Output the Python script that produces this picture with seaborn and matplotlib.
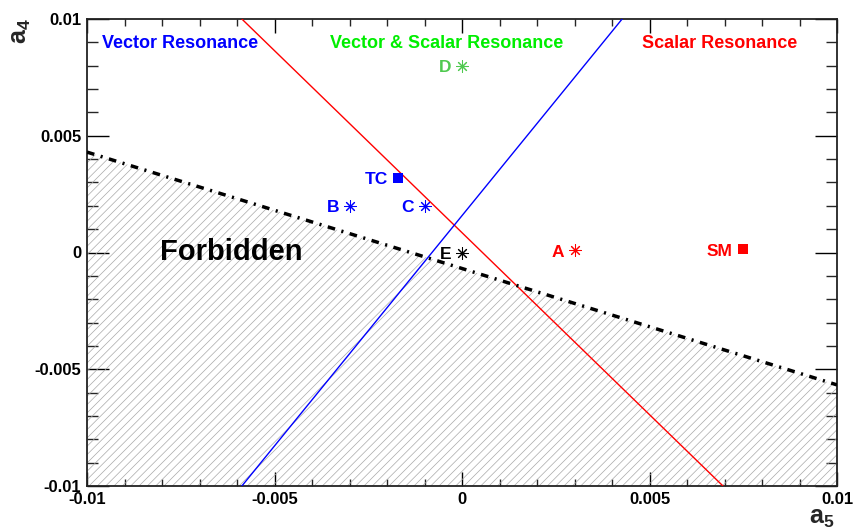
import matplotlib
matplotlib.use("Agg")
import matplotlib.pyplot as plt
import seaborn as sns
import numpy as np
import pandas as pd
from matplotlib.ticker import FixedLocator, MultipleLocator

# ---- data ----
tick_vals = [-0.01, -0.005, 0.0, 0.005, 0.01]
tick_labels = ["-0.01", "-0.005", "0", "0.005", "0.01"]

red_x = [-0.00587, 0.00696]
red_y = [0.01, -0.01]
blue_x = [-0.00587, 0.00427]
blue_y = [-0.01, 0.01]
bound_x = [-0.01, 0.01]
bound_y = [0.0043, -0.00567]

pt_names = ["D", "TC", "B", "C", "E", "A", "SM"]
pt_x = [0.0, -0.0017, -0.003, -0.001, 0.0, 0.003, 0.0075]
pt_y = [0.008, 0.0032, 0.002, 0.002, 0.0, 0.0001, 0.00015]
pt_kind = ["star", "square", "star", "star", "star", "star", "square"]
pt_color = ["#4fc94f", "#0000ff", "#0000ff", "#0000ff", "#000000", "#ff0000", "#ff0000"]

region_text = ["Vector Resonance", "Vector & Scalar Resonance", "Scalar Resonance"]
region_color = ["#0000ff", "#00ee00", "#ff0000"]

# ---- style ----
sns.set_style("ticks")
plt.rcParams["font.family"] = ["Liberation Sans", "DejaVu Sans"]
plt.rcParams["font.weight"] = "bold"
plt.rcParams["mathtext.fontset"] = "custom"
plt.rcParams["mathtext.rm"] = "Liberation Sans:bold"
plt.rcParams["mathtext.bf"] = "Liberation Sans:bold"
plt.rcParams["mathtext.it"] = "Liberation Sans:bold"
plt.rcParams["hatch.linewidth"] = 0.5

fig = plt.figure(figsize=(8.55, 5.32), dpi=100)
ax = fig.add_axes([87 / 855, 1 - 486 / 532, 750 / 855, 467 / 532])

# forbidden hatched region
ax.fill_between(bound_x, bound_y, -0.01, facecolor="none", edgecolor="#a8a8a8",
                hatch="////", linewidth=0, zorder=1)

df_red = pd.DataFrame({"x": red_x, "y": red_y})
df_blue = pd.DataFrame({"x": blue_x, "y": blue_y})
df_bound = pd.DataFrame({"x": bound_x, "y": bound_y})
sns.lineplot(data=df_red, x="x", y="y", color="#ff0000", linewidth=1.0, ax=ax, zorder=3)
sns.lineplot(data=df_blue, x="x", y="y", color="#0000ff", linewidth=1.0, ax=ax, zorder=3)
sns.lineplot(data=df_bound, x="x", y="y", color="black", linewidth=2.5, ax=ax, zorder=4,
             dashes=False)
ax.lines[-1].set_dashes((2.2, 1.9, 0.6, 1.9))

pts = pd.DataFrame({"name": pt_names, "x": pt_x, "y": pt_y, "kind": pt_kind, "color": pt_color})
for _, r in pts.iterrows():
    if r["kind"] == "star":
        sns.scatterplot(x=[r["x"]], y=[r["y"]], marker=(8, 2, 0), s=70, color=r["color"],
                        linewidth=0.75, ax=ax, zorder=5)
    else:
        sns.scatterplot(x=[r["x"]], y=[r["y"]], marker="s", s=62, color=r["color"],
                        linewidth=0, ax=ax, zorder=5)
    ax.annotate(r["name"], (r["x"], r["y"]), xytext=(-7.5, -1.5), textcoords="offset points",
                ha="right", va="center", fontsize=12.5, fontweight="bold", color=r["color"])

# region labels
ax.text(-0.0096, 0.00895, region_text[0], color=region_color[0], fontsize=13,
        fontweight="bold", ha="left", va="center")
ax.text(-0.00041, 0.00895, region_text[1], color=region_color[1], fontsize=13,
        fontweight="bold", ha="center", va="center")
ax.text(0.00688, 0.00895, region_text[2], color=region_color[2], fontsize=13,
        fontweight="bold", ha="center", va="center")
ax.text(-0.00616, 0.0, "Forbidden", color="black", fontsize=21, fontweight="bold",
        ha="center", va="center")

# axes
ax.set_xlim(-0.01, 0.01)
ax.set_ylim(-0.01, 0.01)
ax.xaxis.set_major_locator(FixedLocator(tick_vals))
ax.yaxis.set_major_locator(FixedLocator(tick_vals))
ax.set_xticklabels(tick_labels)
ax.set_yticklabels(tick_labels)
ax.xaxis.set_minor_locator(MultipleLocator(0.001))
ax.yaxis.set_minor_locator(MultipleLocator(0.001))
ax.tick_params(axis="x", which="major", direction="in", length=10, width=1.0,
               top=True, bottom=True, labelsize=12, pad=4, colors="black")
ax.tick_params(axis="x", which="minor", direction="in", length=5, width=1.0,
               top=True, bottom=True)
ax.tick_params(axis="y", which="major", direction="in", length=16, width=1.0,
               left=True, right=True, labelsize=12, pad=4, colors="black")
ax.tick_params(axis="y", which="minor", direction="in", length=8, width=1.0,
               left=True, right=True)
for lab in ax.get_xticklabels() + ax.get_yticklabels():
    lab.set_fontweight("bold")
for sp in ax.spines.values():
    sp.set_visible(True)
    sp.set_linewidth(1.3)
    sp.set_color("#222222")
ax.set_xlabel("")
ax.set_ylabel("")

fig.text(21 / 855, 1 - 18 / 532, r"$\mathbf{a_4}$", rotation=90, fontsize=18,
         ha="center", va="top")
fig.text(822 / 855, 2 / 532, r"$\mathbf{a_5}$", fontsize=18,
         ha="center", va="bottom")

fig.savefig("out.png", dpi=100)
